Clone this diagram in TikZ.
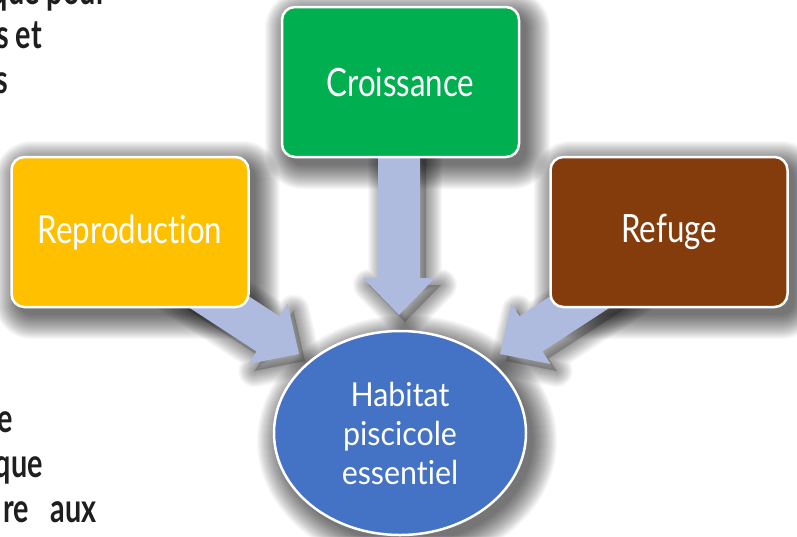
\documentclass[tikz,border=0pt]{standalone}
\usepackage{fontspec}
\usetikzlibrary{shapes.geometric,calc}
\newfontfamily\boxfont[FakeStretch=0.8,Ligatures={NoCommon,NoContextual}]{Lato}
\newfontfamily\habfont[FakeStretch=0.92,Ligatures={NoCommon,NoContextual}]{Lato}
\newfontfamily\bodyfont[FakeStretch=0.72]{Lato}
\definecolor{cgreen}{HTML}{00B050}
\definecolor{cgold}{HTML}{FFC000}
\definecolor{cbrown}{HTML}{843C0C}
\definecolor{cblue}{HTML}{4472C4}
\definecolor{carrow}{HTML}{AEBBDF}
\definecolor{ctext}{HTML}{1E1E1E}
\newcommand\arrowshape[3]{%
  \coordinate (h) at ($(#2)!37pt!(#1)$);
  \path[#3] ($(#1)!21pt!90:(#2)$) -- ($(h)!21pt!90:(#2)$) -- ($(h)!36pt!90:(#2)$) -- (#2) -- ($(h)!36pt!-90:(#2)$) -- ($(h)!21pt!-90:(#2)$) -- ($(#1)!21pt!-90:(#2)$) -- cycle;}
\newcommand\arrowshadow[2]{%
  \coordinate (ss) at ($(#1)+(6,7)$);
  \coordinate (ts) at ($(#2)+(6,7)$);
  \arrowshape{ss}{ts}{fill=black,opacity=0.2}
  \foreach \k in {1,...,16}{%
    \pgfmathsetmacro\lw{2*\k}%
    \arrowshape{ss}{ts}{draw=black,opacity=0.028,line width=\lw pt,line join=round}}}
\newcommand\boxshadow[1]{%
  \foreach \k in {0,...,24}{%
    \pgfmathsetmacro\rr{13+\k}%
    \fill[black,opacity=0.028,rounded corners=\rr pt] ($(#1)+(-118.5+7-\k,75+8+\k)$) rectangle ($(#1)+(118.5+7+\k,-75+8-\k)$);}}
\begin{document}
\begin{tikzpicture}[x=1pt,y=-1pt,
  box/.style={draw=white,line width=2.5pt,rounded corners=13pt,minimum width=237pt,minimum height=150pt,text=white,font=\boxfont\fontsize{39}{44}\selectfont,inner sep=0pt},
  hab/.style={ellipse,draw=white,line width=2.5pt,fill=cblue,minimum width=252pt,minimum height=204pt,text=white,align=center,font=\habfont\fontsize{33}{39}\selectfont,inner sep=0pt},
  body/.style={font=\bodyfont\bfseries\fontsize{40}{45}\selectfont,text=ctext,inner sep=0pt,anchor=base east}
]
\useasboundingbox (0,0) rectangle (797,536);
\fill[white] (0,0) rectangle (797,536);
% body text fragments
\node[body] (b1) at (107,4) {que pour};
\node[body] (b2) at (42,48) {s et};
\node[body] (b3) at (8,93) {s};
\node[body] (b4) at (13,432) {e};
\node[body] (b5) at (43,477) {que};
\node[body] (b6) at (97,522) {re\hspace{22pt}aux};
% positions
\coordinate (pcro) at (400.5,82);
\coordinate (prep) at (130,232);
\coordinate (pref) at (669,232);
\coordinate (phab) at (400,433);
% shadows of boxes and ellipse
\boxshadow{pcro}
\boxshadow{prep}
\boxshadow{pref}
\foreach \k in {0,...,24}{%
  \fill[black,opacity=0.028] ($(phab)+(7,8)$) ellipse [x radius={(126+\k)*1pt},y radius={(102+\k)*1pt}];}
% arrows
\coordinate (s1) at (399,150);
\coordinate (t1) at (399,315);
\coordinate (s2) at (173,272);
\coordinate (t2) at (299,354);
\coordinate (s3) at (626,272);
\coordinate (t3) at (500,354);
\arrowshadow{s1}{t1}
\arrowshadow{s2}{t2}
\arrowshadow{s3}{t3}
\arrowshape{s1}{t1}{fill=carrow}
\arrowshape{s2}{t2}{fill=carrow}
\arrowshape{s3}{t3}{fill=carrow}
% boxes
\node[box,fill=cgreen] (cro) at (pcro) {Croissance};
\node[box,fill=cgold] (rep) at (prep) {Reproduction};
\node[box,fill=cbrown] (ref) at (pref) {Refuge};
\node[hab] (habitat) at (phab) {Habitat\\piscicole\\essentiel};
\end{tikzpicture}
\end{document}
